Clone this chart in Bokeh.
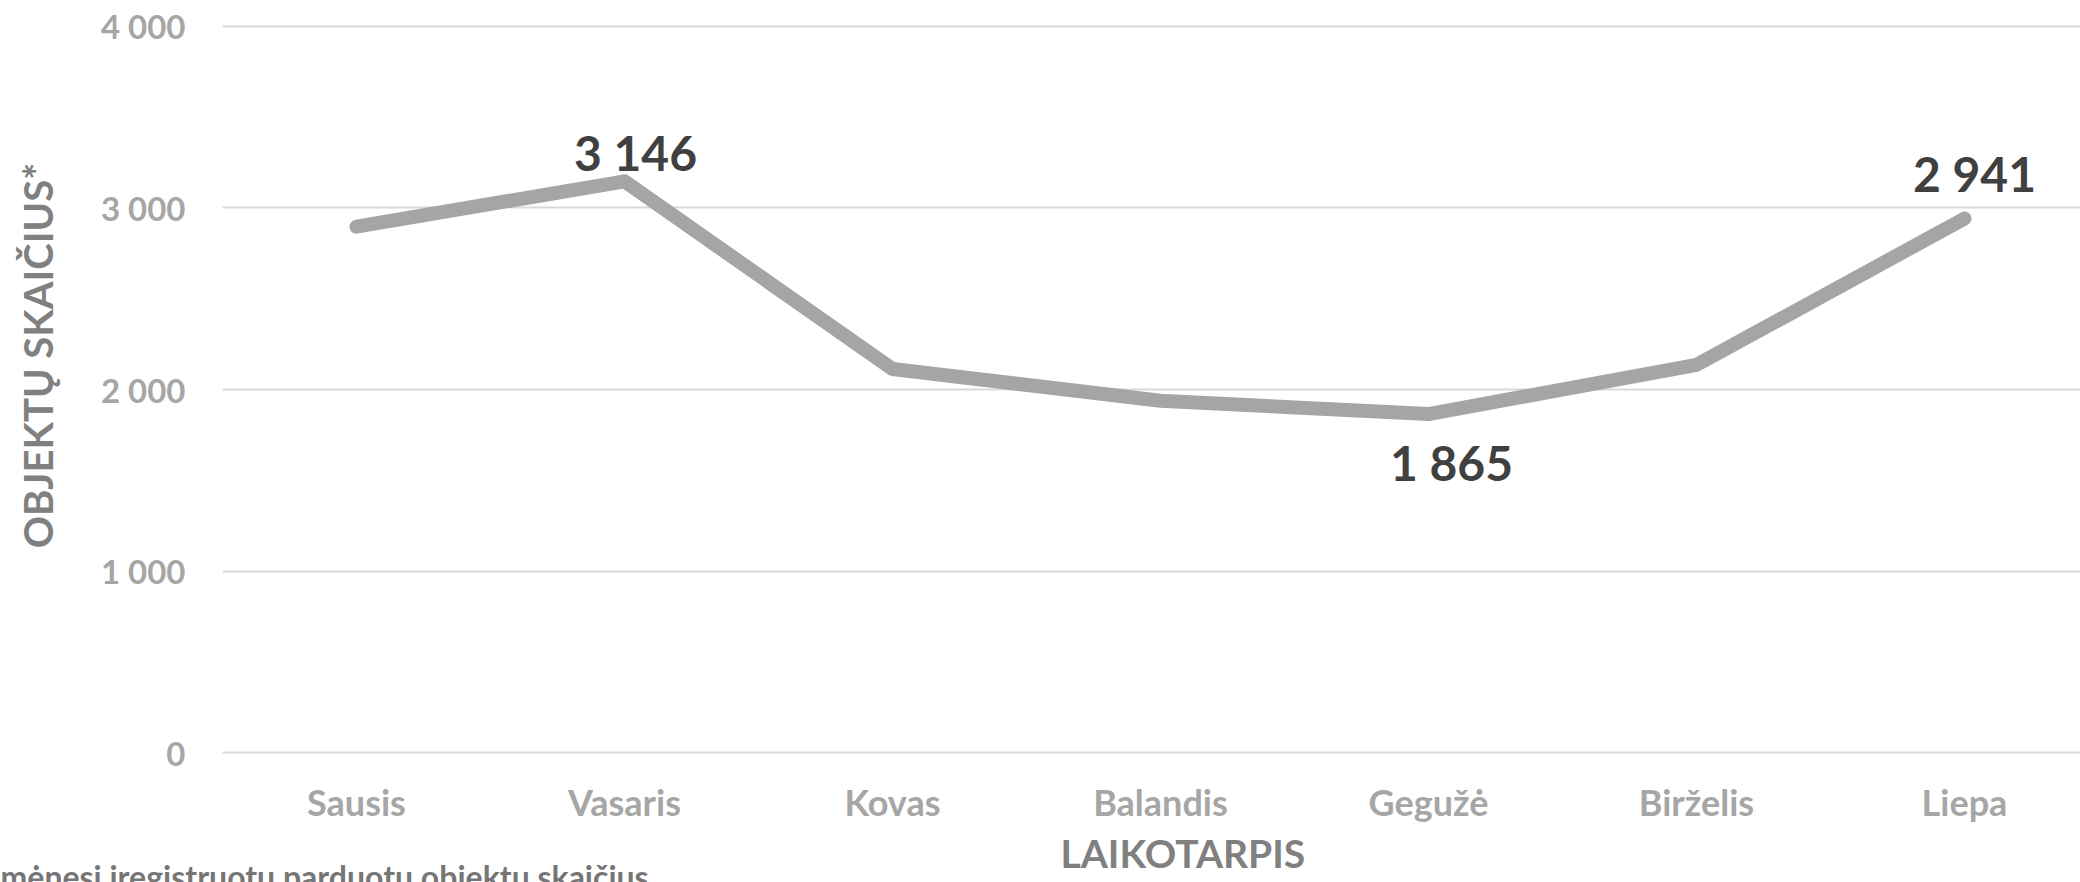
from bokeh.plotting import figure
from bokeh.models import FixedTicker, Range1d, Title, ColumnDataSource
from bokeh.core.properties import value
from bokeh.embed import file_html
from bokeh.resources import INLINE

# ---- data ----
months = ["Sausis", "Vasaris", "Kovas", "Balandis", "Gegužė", "Birželis", "Liepa"]
counts = [2896, 3146, 2113, 1938, 1865, 2135, 2941]
y_ticks = [0, 1000, 2000, 3000, 4000]
y_tick_labels = ["0", "1 000", "2 000", "3 000", "4 000"]
labelled_idx = [1, 4, 6]
y_title = "OBJEKTŲ SKAIČIUS*"
x_title = "LAIKOTARPIS"
footnote = "mėnesį įregistruotų parduotų objektų skaičius"

# ---- styles ----
FONT = "Lato"
label_dx = [11, 23, 10]
label_dy = [-29, 48, -45]
Y_TITLE_SHIFT = "\u00a0" * 7   # lifts the centred y title to where the original sits

def fmt(v):
    return f"{v:,}".replace(",", " ")

xs = list(range(len(months)))

p = figure(width=2080, height=882, output_backend="svg", toolbar_location=None,
           x_range=Range1d(-0.5, 6.433), y_range=Range1d(-20, 4020),
           min_border_left=222, min_border_right=0, min_border_top=22, min_border_bottom=126)
p.outline_line_color = None
p.background_fill_color = "white"
p.border_fill_color = "white"

p.ygrid.grid_line_color = "#d9d9d9"
p.ygrid.grid_line_width = 2
p.xgrid.grid_line_color = None

p.line(xs, counts, line_color="#a5a5a5", line_width=14, line_join="round", line_cap="round")

src = ColumnDataSource(dict(
    x=[xs[i] for i in labelled_idx],
    y=[counts[i] for i in labelled_idx],
    t=[fmt(counts[i]) for i in labelled_idx],
    dx=label_dx,
    dy=label_dy,
))
p.text(x="x", y="y", text="t", source=src, x_offset="dx", y_offset="dy",
       text_align="center", text_baseline="middle", text_font=value(FONT),
       text_font_size="48px", text_font_style="bold", text_color="#404040")

# axes
p.yaxis.ticker = FixedTicker(ticks=y_ticks)
p.yaxis.major_label_overrides = {t: l for t, l in zip(y_ticks, y_tick_labels)}
p.xaxis.ticker = FixedTicker(ticks=xs)
p.xaxis.major_label_overrides = {i: m for i, m in zip(xs, months)}
for ax in (p.xaxis[0], p.yaxis[0]):
    ax.axis_line_color = None
    ax.major_tick_line_color = None
    ax.minor_tick_line_color = None
    ax.major_tick_out = 0
    ax.major_tick_in = 0
    ax.major_label_text_font = FONT
    ax.major_label_text_font_style = "bold"
    ax.major_label_text_color = "#a6a6a6"
p.yaxis.major_label_text_font_size = "33px"
p.xaxis.major_label_text_font_size = "36px"
p.yaxis.major_label_standoff = 37
p.xaxis.major_label_standoff = 23

p.yaxis.axis_label = Y_TITLE_SHIFT + y_title
p.yaxis.axis_label_standoff = 36
p.yaxis.axis_label_text_font = FONT
p.yaxis.axis_label_text_font_size = "40px"
p.yaxis.axis_label_text_font_style = "bold"
p.yaxis.axis_label_text_color = "#808080"

# titles
p.add_layout(Title(text=x_title, align="left", offset=838, vertical_align="top", standoff=7,
                   text_font=FONT, text_font_size="39px", text_font_style="bold",
                   text_color="#808080"), "below")
p.add_layout(Title(text=footnote, align="left", offset=-222, vertical_align="top", standoff=-50,
                   text_font=FONT, text_font_size="32px", text_font_style="bold",
                   text_color="#767676"), "below")

open("out.html", "w").write(file_html(p, INLINE))
